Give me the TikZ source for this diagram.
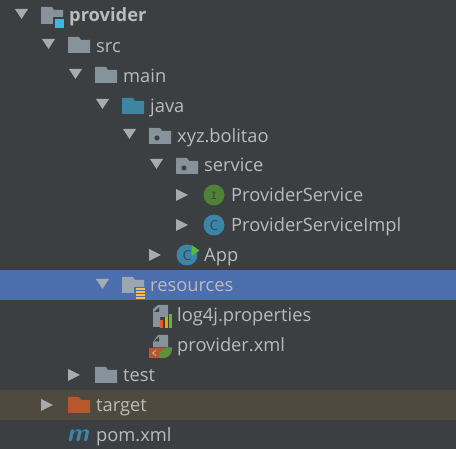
\documentclass[tikz,border=0pt]{standalone}
\usepackage{fontspec}
\setmainfont{Open Sans}
\definecolor{panelbg}{HTML}{3C3F41}
\definecolor{selband}{HTML}{4B6EAF}
\definecolor{targetband}{HTML}{4E4A3F}
\definecolor{treetext}{HTML}{BBBBBB}
\definecolor{arrowgray}{HTML}{A8AAAC}
\definecolor{foldergray}{HTML}{87939A}
\definecolor{foldertop}{HTML}{9AA7B0}
\definecolor{javablue}{HTML}{3E86A0}
\definecolor{squareblue}{HTML}{40B6E0}
\definecolor{targetorange}{HTML}{B4592B}
\definecolor{greenI}{HTML}{4F8139}
\definecolor{tealC}{HTML}{3A85A8}
\definecolor{runGreen}{HTML}{59B83A}
\definecolor{springgreen}{HTML}{5E8F3C}
\definecolor{barred}{HTML}{E0592A}
\definecolor{barorange}{HTML}{EDA200}
\definecolor{bargreen}{HTML}{62B543}
\tikzset{
  treelabel/.style={anchor=base west,inner sep=0pt,text=treetext,font=\fontsize{18.3}{20}\selectfont},
  arrowfill/.style={fill=arrowgray,draw=none},
}
% expander triangles, #1 = x, #2 = row centre
\newcommand{\opened}[2]{\fill[arrowfill] (#1,#2-5) -- (#1+13,#2-5) -- (#1+6.5,#2+5) -- cycle;}
\newcommand{\closed}[2]{\fill[arrowfill] (#1,#2-6) -- (#1+12,#2) -- (#1,#2+6) -- cycle;}
% folder, #1 = x, #2 = row centre, #3 = colour
\newcommand{\folder}[3]{\fill[#3] (#1,#2-8) -- (#1+11,#2-8) -- (#1+13,#2-5) -- (#1+22,#2-5) -- (#1+22,#2+8) -- (#1,#2+8) -- cycle;}
\newcommand{\pkgfolder}[2]{\folder{#1}{#2}{foldergray}\fill[panelbg] (#1+8,#2+2) circle (2.6);}
\begin{document}
\begin{tikzpicture}[x=1pt,y=-1pt]
  \useasboundingbox (0,0) rectangle (456,449);
  \fill[panelbg] (0,0) rectangle (456,449);
  \fill[selband] (0,270) rectangle (456,300);
  \fill[targetband] (0,390) rectangle (456,420);
  % Arrows
  \opened{15}{14}
  \opened{42}{44}
  \opened{69}{74}
  \opened{96}{104}
  \opened{123}{134}
  \opened{150}{164}
  \closed{176}{195}
  \closed{176}{225}
  \closed{149}{255}
  \opened{96}{284}
  \closed{68}{375}
  \closed{41}{405}
  % Folders
  \fill[foldergray] (41,7) -- (52,7) -- (54,10) -- (63,10) -- (63,24) -- (41,24) -- cycle;
  \fill[panelbg] (53,17) rectangle (64.5,29);
  \fill[squareblue] (55,19) rectangle (64,28);
  \folder{68}{45}{foldergray}
  \folder{95}{75}{foldergray}
  \folder{122}{106}{javablue}
  \pkgfolder{149}{136}
  \pkgfolder{176}{166}
  \folder{95}{375}{foldergray}
  \folder{68}{405}{targetorange}
  % resources
  \fill[foldertop] (122,277) -- (133,277) -- (135,280) -- (144,280) -- (144,293) -- (122,293) -- cycle;
  \fill[selband] (134,287) rectangle (146,299);
  \foreach \stripe in {288,291,294,297}
    \fill[barorange!70!white] (136,\stripe) rectangle (145,\stripe+1.8);
  % Class icons
  \fill[greenI] (214,195) circle (10.5);
  \node[text=panelbg,font=\fontsize{12}{12}\ttfamily\bfseries,inner sep=0pt] (ifaceI) at (214,195.5) {I};
  \fill[tealC] (214,225) circle (10.5);
  \node[text=panelbg,font=\fontsize{14}{14}\sffamily,inner sep=0pt] (classC) at (214,225.5) {C};
  \fill[tealC] (187,255) circle (10.5);
  \node[text=panelbg,font=\fontsize{14}{14}\sffamily,inner sep=0pt] (appC) at (187,256) {C};
  \fill[runGreen] (191.5,245) -- (199.5,250.5) -- (191.5,256) -- cycle;
  % log4j icon
  \fill[foldergray] (153,313) -- (153,309) -- (158,305) -- (168,305) -- (168,317) -- (160,317) -- (160,327) -- (153,327) -- cycle;
  \fill[panelbg] (154,312) -- (159,307.5) -- (159,312) -- cycle;
  \fill[barred] (160,320) rectangle (163,328);
  \fill[barorange] (164.5,317.5) rectangle (167.5,328);
  \fill[bargreen] (169,314) rectangle (172,328);
  % xml icon
  \fill[foldergray] (153,342) -- (158,335) -- (168,335) -- (168,347.5) -- (153,347.5) -- cycle;
  \fill[panelbg] (154,341.5) -- (159,337) -- (159,341.5) -- cycle;
  \fill[targetorange] (149,348) rectangle (166,358);
  \draw[treetext,line width=.8pt] (156,350.5) -- (152.5,353) -- (156,355.5);
  \fill[springgreen] (159,358) .. controls (158,351) and (165,346) .. (172,347.5) .. controls (173,354) and (168,359.5) .. (159,358) -- cycle;
  % pom
  \node[anchor=base west,inner sep=0pt,text=tealC,font=\fontsize{25}{25}\sffamily\bfseries\itshape] (pomM) at (67,442) {m};
  % Labels
  \node[treelabel,font=\fontsize{18.3}{20}\selectfont\bfseries] (provider) at (69,22) {provider};
  \node[treelabel] (src) at (96,53) {src};
  \node[treelabel] (main) at (123,83) {main};
  \node[treelabel] (java) at (150,113) {java};
  \node[treelabel] (xyz) at (177,143) {xyz.bolitao};
  \node[treelabel] (service) at (204,172) {service};
  \node[treelabel] (provservice) at (231,202) {ProviderService};
  \node[treelabel] (provimpl) at (231,232) {ProviderServiceImpl};
  \node[treelabel] (app) at (204,262) {App};
  \node[treelabel] (resources) at (150,292) {resources};
  \node[treelabel] (log) at (177,322) {log4j.properties};
  \node[treelabel] (provxml) at (177,352) {provider.xml};
  \node[treelabel] (test) at (123,382) {test};
  \node[treelabel] (target) at (96,412) {target};
  \node[treelabel] (pom) at (96,442) {pom.xml};
\end{tikzpicture}
\end{document}
